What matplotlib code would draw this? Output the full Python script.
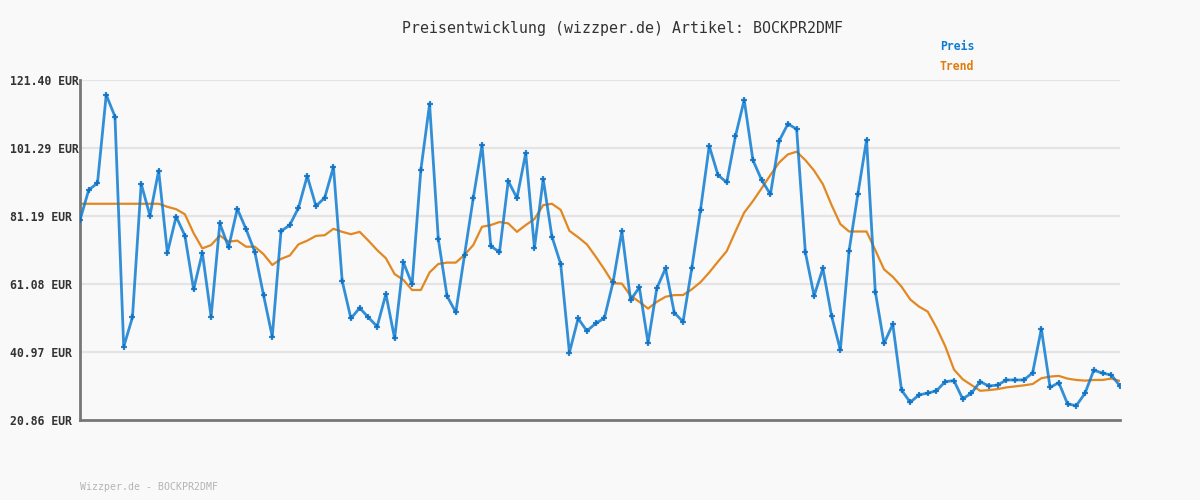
"""
Price history chart (wizzper.de) for article BOCKPR2DMF.
"""

import numpy as np
import matplotlib
matplotlib.use('Agg')
import matplotlib.pyplot as plt

# Price points (EUR), one per observation
preis = [
    80.0, 88.9, 90.9, 117.0, 110.6, 42.5, 51.2, 90.7, 81.3, 94.6,
    70.3, 81.0, 75.4, 59.5, 70.3, 51.4, 79.0, 71.9, 83.3, 77.3,
    70.6, 57.8, 45.5, 76.7, 78.5, 83.6, 93.0, 84.1, 86.6, 95.7,
    62.0, 50.9, 54.0, 51.2, 48.5, 58.1, 45.0, 67.5, 61.0, 94.8,
    114.3, 74.3, 57.5, 52.7, 69.7, 86.5, 102.2, 72.3, 70.5, 91.5,
    86.5, 99.8, 71.8, 92.1, 75.1, 67.0, 40.8, 50.9, 47.2, 49.4,
    51.0, 61.7, 76.7, 56.3, 60.1, 43.7, 59.8, 65.7, 52.6, 49.9,
    65.7, 83.0, 101.9, 93.3, 91.1, 104.8, 115.5, 97.7, 91.8, 87.6,
    103.4, 108.4, 106.9, 70.4, 57.6, 65.7, 51.6, 41.6, 70.9, 87.6,
    103.7, 58.8, 43.5, 49.2, 29.7, 26.1, 28.3, 28.8, 29.5, 32.2,
    32.5, 27.1, 28.8, 32.2, 30.9, 31.2, 32.7, 32.7, 32.7, 34.8,
    47.8, 30.5, 31.9, 25.6, 25.1, 28.8, 35.6, 34.7, 34.2, 30.9,
]

# Trend line (EUR), same positions as the price points
trend = [
    84.8, 84.8, 84.8, 84.8, 84.8, 84.8, 84.8, 84.8, 84.8, 84.8,
    83.9, 83.2, 81.7, 76.1, 71.6, 72.6, 75.4, 73.6, 73.9, 72.1,
    72.1, 69.9, 66.7, 68.5, 69.5, 72.8, 73.9, 75.3, 75.5, 77.4,
    76.5, 75.8, 76.5, 73.9, 71.1, 68.7, 64.0, 62.3, 59.3, 59.3,
    64.5, 67.0, 67.4, 67.4, 69.7, 72.6, 78.0, 78.5, 79.4, 79.0,
    76.5, 78.5, 80.3, 84.4, 84.8, 83.0, 76.8, 74.9, 72.8, 69.2,
    65.4, 61.3, 61.2, 57.6, 55.8, 53.8, 55.8, 57.3, 57.8, 57.8,
    59.5, 61.6, 64.5, 67.7, 70.8, 76.6, 82.2, 85.6, 89.4, 93.3,
    97.0, 99.4, 100.2, 97.7, 94.6, 90.6, 84.4, 78.8, 76.6, 76.6,
    76.6, 71.1, 65.4, 63.2, 60.3, 56.5, 54.4, 52.9, 48.2, 42.7,
    35.8, 32.9, 31.2, 29.5, 29.7, 30.0, 30.5, 30.8, 31.1, 31.5,
    33.2, 33.7, 33.9, 33.1, 32.7, 32.5, 32.7, 32.7, 33.1, 32.4,
]

y_ticks = [20.86, 40.97, 61.08, 81.19, 101.29, 121.40]
y_labels = [f"{v:.2f} EUR" for v in y_ticks]

title = 'Preisentwicklung (wizzper.de) Artikel: BOCKPR2DMF'
footer = 'Wizzper.de - BOCKPR2DMF'

bg = '#f9f9f9'
blue = '#0f7dd1'
orange = '#e07c0c'
mono = ['DejaVu Sans Mono', 'Liberation Mono']

fig = plt.figure(figsize=(12, 5), dpi=100, facecolor=bg)
ax = fig.add_axes([80 / 1200, 80 / 500, 1040 / 1200, 340 / 500], facecolor=bg)

x = np.arange(len(preis))

# Horizontal grid lines
for v in y_ticks[1:]:
    ax.axhline(v, color='#e4e4e4', linewidth=1.6, zorder=0)

ax.plot(x, preis, color=blue, linewidth=2.0, alpha=0.85, zorder=3,
        marker='+', markersize=4.5, markeredgewidth=1.6,
        markeredgecolor='#0a6fc2')
ax.plot(x, trend, color=orange, linewidth=1.6, alpha=0.9, zorder=2)

ax.set_xlim(0, len(preis) - 1)
ax.set_ylim(y_ticks[0], y_ticks[-1])
ax.set_xticks([])
ax.set_yticks(y_ticks)
ax.set_yticklabels(y_labels, family=mono, fontsize=8.3, fontweight='bold',
                   color='#333333', ha='left')
ax.tick_params(axis='y', length=0, pad=50.4)

for side in ['top', 'right']:
    ax.spines[side].set_visible(False)
for side in ['left', 'bottom']:
    ax.spines[side].set_color('#777777')
    ax.spines[side].set_linewidth(2)

fig.text(623 / 1200, 1 - 28 / 500, title, family=mono, fontsize=10.7,
         color='#333333', ha='center', va='center')
fig.text(940 / 1200, 1 - 47 / 500, 'Preis', family=mono, fontsize=8.3,
         fontweight='bold', color=blue, ha='left', va='center')
fig.text(940 / 1200, 1 - 67 / 500, 'Trend', family=mono, fontsize=8.3,
         fontweight='bold', color=orange, ha='left', va='center')
fig.text(80 / 1200, 1 - 487 / 500, footer, family=mono, fontsize=7.1,
         color='#b4b4b4', ha='left', va='center')

fig.savefig('out.png', dpi=100, facecolor=bg)
plt.close(fig)
